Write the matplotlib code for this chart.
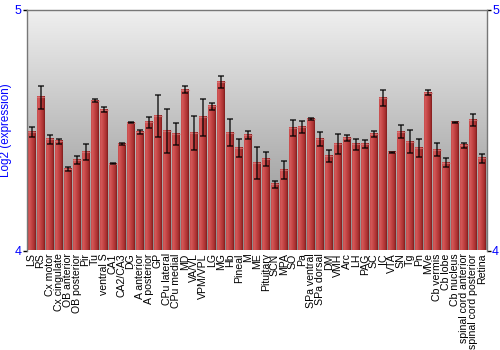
import matplotlib
matplotlib.use("Agg")
import matplotlib.pyplot as plt
import numpy as np
from matplotlib.colors import LinearSegmentedColormap

categories = ["LS", "RS", "Cx motor", "Cx cingulate", "OB anterior", "OB posterior", "Pir", "Tu",
              "ventral S", "CA1", "CA2/CA3", "DG", "A anterior", "A posterior", "GP", "CPu lateral",
              "CPu medial", "MD", "VA/VL", "VPM/VPL", "LG", "MG", "Hb", "Pineal", "M", "ME",
              "Pituitary", "SCN", "MPA", "SO", "Pa", "SPa ventral", "SPa dorsal", "DM", "VMH", "Arc",
              "LH", "PAG", "SC", "IC", "VTA", "SN", "Tg", "Pn", "MVe", "Cb vermis", "Cb lobe",
              "Cb nucleus", "spinal cord anterior", "spinal cord posterior", "Retina"]
values = [4.490, 4.636, 4.461, 4.453, 4.337, 4.374, 4.410, 4.621, 4.585, 4.360, 4.443, 4.531,
          4.492, 4.532, 4.560, 4.496, 4.482, 4.668, 4.487, 4.553, 4.599, 4.699, 4.489, 4.425,
          4.479, 4.364, 4.380, 4.275, 4.333, 4.507, 4.512, 4.544, 4.462, 4.393, 4.442, 4.467,
          4.440, 4.442, 4.483, 4.632, 4.407, 4.493, 4.451, 4.424, 4.654, 4.419, 4.364, 4.533,
          4.436, 4.540, 4.382]
errors = [0.021, 0.047, 0.020, 0.010, 0.009, 0.017, 0.033, 0.006, 0.010, 0.003, 0.004, 0.002,
          0.010, 0.024, 0.087, 0.092, 0.045, 0.016, 0.072, 0.076, 0.014, 0.024, 0.057, 0.039,
          0.017, 0.066, 0.028, 0.014, 0.037, 0.033, 0.026, 0.004, 0.028, 0.026, 0.043, 0.011,
          0.024, 0.018, 0.011, 0.033, 0.001, 0.026, 0.047, 0.037, 0.010, 0.025, 0.019, 0.002,
          0.010, 0.025, 0.017]
y_ticks = [4, 5]
y_label = "Log2 (expression)"

plt.rcParams['font.family'] = ['Liberation Sans', 'DejaVu Sans']

fig = plt.figure(figsize=(5, 3.5), dpi=100)
ax = fig.add_axes([27 / 500, 1 - 250.5 / 350, (486.5 - 27) / 500, (250.5 - 9.5) / 350])

n = len(categories)
ax.set_xlim(-0.5, n - 0.5)
ax.set_ylim(4, 5)

# background gradient
bg = np.linspace(0.94, 0.55, 256).reshape(-1, 1)
bg_rgb = np.dstack([bg, bg, bg])
ax.imshow(bg_rgb, extent=[-0.5, n - 0.5, 4, 5], aspect='auto', origin='upper', zorder=0)

# bars
x = np.arange(n)
width = 0.88
bars = ax.bar(x, np.array(values) - 4, bottom=4, width=width, color='none', edgecolor='none', zorder=2)
bar_cmap = LinearSegmentedColormap.from_list(
    "barg", [(0.0, "#c04545"), (0.12, "#d65c5c"), (0.45, "#c44444"), (0.8, "#a83030"), (1.0, "#7e1c1c")])
grad = np.linspace(0, 1, 64).reshape(1, -1)
for b in bars:
    x0 = b.get_x()
    x1 = x0 + b.get_width()
    y0 = b.get_y()
    y1 = y0 + b.get_height()
    ax.imshow(grad, cmap=bar_cmap, extent=[x0, x1, y0, y1], aspect='auto', zorder=2,
              interpolation='bilinear')
    ax.plot([x0, x1], [y1, y1], color="#d88080", lw=0.8, alpha=0.7, zorder=2.5)

ax.errorbar(x, values, yerr=errors, fmt='none', ecolor='black', elinewidth=1.2,
            capsize=2, capthick=1.2, alpha=0.75, zorder=3)

ax.set_xlim(-0.5, n - 0.5)
ax.set_ylim(4, 5)

ax.set_xticks(x)
ax.set_xticklabels(categories, rotation=90, fontsize=7.6)
ax.tick_params(axis='x', length=0, pad=2)

ax.set_yticks(y_ticks)
ax.set_yticklabels([str(t) for t in y_ticks])
ax.tick_params(axis='y', which='both', direction='out', length=3, width=1, color='black',
               labelcolor='#0000ff', labelsize=9, left=True, right=True,
               labelleft=True, labelright=True, pad=1)
ax.set_ylabel(y_label, color='#0000ff', fontsize=8.4, labelpad=2)

for s in ['top', 'left', 'right']:
    ax.spines[s].set_color('#777777')
    ax.spines[s].set_linewidth(1)
ax.spines['bottom'].set_visible(False)

fig.savefig("out.png", dpi=100)
